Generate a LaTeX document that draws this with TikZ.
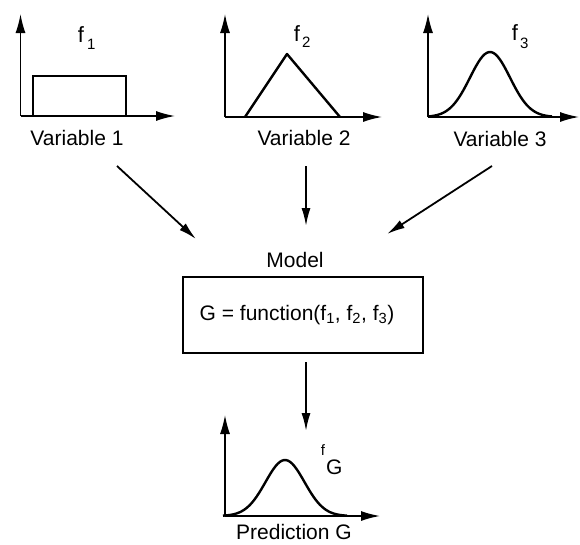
\documentclass[tikz,border=0pt]{standalone}
\usepackage{fontspec}
\setmainfont{Liberation Sans}
\usetikzlibrary{arrows.meta}
\begin{document}
\begin{tikzpicture}[x=1pt,y=-1pt,
  axis/.style={line width=1.5pt,-{Latex[length=19pt,width=10pt]}},
  conn/.style={line width=1.8pt,-{Latex[length=18pt,width=9pt]}},
  curve/.style={line width=2.4pt,line join=round},
  lbl/.style={font=\fontsize{21}{24}\selectfont,inner sep=0pt},
  fl/.style={font=\fontsize{22}{24}\selectfont,inner sep=0pt},
  sub/.style={font=\fontsize{15}{17}\selectfont,inner sep=0pt}]
\useasboundingbox (0,0) rectangle (580,544);
% Panel 1
\draw[axis] (20.5,116) -- (20.5,14);
\draw[axis] (20.5,116) -- (175,116);
\draw[line width=1.5pt] (33,116) -- (33,76) -- (126,76) -- (126,116);
\draw[line width=2.8pt] (33,116) -- (33,76);
\node[fl] (f1) at (81,35) {f};
\node[sub,anchor=west] (f1s) at (87,44) {1};
\node[lbl] (v1) at (77,138) {Variable 1};
% Panel 2
\draw[axis] (225,117) -- (225,14);
\draw[axis] (225,117) -- (382,117);
\draw[curve] (245,117) -- (287,54) -- (340,117);
\node[fl] (f2) at (297,34) {f};
\node[sub,anchor=west] (f2s) at (302,42) {2};
\node[lbl] (v2) at (304,138) {Variable 2};
% Panel 3
\draw[axis] (428,117) -- (428,14);
\draw[axis] (428,117) -- (579,117);
\draw[curve] plot[domain=-62:62,samples=60,smooth] ({490+\x},{117-65*exp(-(\x*\x)/800)});
\node[fl] (f3) at (515,33) {f};
\node[sub,anchor=west] (f3s) at (520,43) {3};
\node[lbl] (v3) at (500,139) {Variable 3};
% Arrows to model
\coordinate (a1s) at (117,166); \coordinate (a1e) at (196,239);
\coordinate (a2s) at (306,166); \coordinate (a2e) at (306,226);
\coordinate (a3s) at (492,166); \coordinate (a3e) at (387,234);
\draw[conn] (a1s) -- (a1e);
\draw[conn] (a2s) -- (a2e);
\draw[conn] (a3s) -- (a3e);
% Model
\node[lbl] (mlabel) at (295,260) {Model};
\node[draw,line width=1.6pt,minimum width=240pt,minimum height=76pt,inner sep=0pt] (model) at (303,315) {};
\node[lbl] (mtext) at (297,315) {G = function(f\textsubscript{1}, f\textsubscript{2}, f\textsubscript{3})};
\coordinate (a4s) at (306,362); \coordinate (a4e) at (306,431);
\draw[conn] (a4s) -- (a4e);
% Panel G
\draw[axis] (225,516) -- (225,415);
\draw[axis] (225,516) -- (380,516);
\draw[curve] plot[domain=-62:62,samples=60,smooth] ({285+\x},{516-56*exp(-(\x*\x)/760)});
\node[sub] (fG) at (323,450) {f};
\node[lbl,anchor=west] (fGs) at (326,467) {G};
\node[lbl] (pg) at (294,532) {Prediction G};
\end{tikzpicture}
\end{document}
